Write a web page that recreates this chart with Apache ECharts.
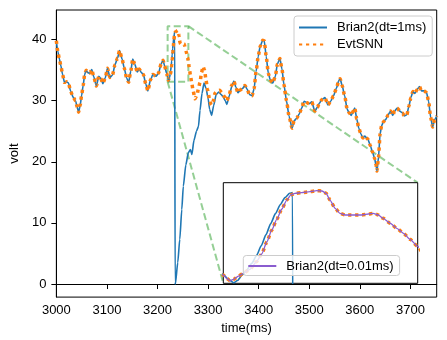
<!DOCTYPE html>
<html>
<head>
<meta charset="utf-8">
<script src="https://cdn.jsdelivr.net/npm/echarts@6/dist/echarts.min.js"></script>
<style>
  html, body { margin: 0; padding: 0; background: #fff; }
  #chart { width: 447px; height: 340px; }
</style>
</head>
<body>
<div id="chart"></div>
<script>
// tick labels
const xTicks = [3000, 3100, 3200, 3300, 3400, 3500, 3600, 3700];
const yTicks = [0, 10, 20, 30, 40];

// zoom window shown in the inset
const insetX = [3220, 3261];
const insetY = [33.1, 42.2];

// 3000-3218 ms, both simulators agree
const tPre = [3000,3003,3006,3009,3012,3016,3020,3024,3028,3033,3038,3041,3044,3047,3050,3053,3056,3059,3062,3066,
  3070,3074,3079,3084,3088,3092,3097,3101,3106,3111,3116,3121,3125,3130,3134,3139,3143,3147,3151,3155,
  3160,3164,3168,3172,3177,3181,3186,3191,3197,3202,3207,3211,3214,3218];
const vPre = [39.8,38.0,36.8,35.7,34.4,33.0,33.1,32.9,31.6,30.6,30.0,29.0,28.1,29.2,30.9,32.5,34.3,35.0,34.6,34.5,
  35.1,33.9,32.4,34.0,33.6,32.8,33.8,35.3,33.8,34.2,35.9,37.0,38.2,36.8,35.4,33.7,33.0,34.8,36.8,36.0,
  34.7,35.2,34.6,34.3,32.7,31.6,33.4,34.3,34.0,34.5,36.0,36.6,35.7,34.5];

// Brian2 dt=1ms around the spike (fires and resets)
const tBrianMid = [3220,3221,3222.2,3223,3224,3225,3226,3227,3228,3229,3230,3231,3232,3233,3234,3234.6,3234.8,3235.3,
  3240,3244,3248,3251,3256,3261,3265,3268,3272,3277,3281,3284,3288,3292,3296,3300,3303,3307,3311,3316,3321,3326,
  3330,3334,3337,3342,3347];
const vBrianMid = [33.9,33.5,33.15,33.35,33.85,34.35,34.9,35.6,36.5,37.5,38.5,39.4,40.2,40.85,41.25,41.3,0.3,0,
  3.5,7.3,12.2,16.0,19.5,21.5,22.0,21.2,23.5,25.0,25.8,28.4,31.2,32.9,32.0,30.4,28.6,27.6,29.2,31.0,31.4,31.0,
  30.6,30.0,29.4,30.8,32.4];

// EvtSNN around the same window (no spike)
const tEvtMid = [3220,3220.7,3221.4,3222.1,3223.2,3224.2,3225.6,3227,3228.1,3229.2,3230.2,3231.3,3232.3,3233.4,3234.2,
  3235.1,3236.5,3238.3,3239.7,3240.8,3241.7,3242.5,3243.6,3244.6,3245.7,3247.4,3249.2,3250.6,3251.6,3252.7,3253.7,
  3255.2,3256.6,3258,3259.4,3260.9,3262.5,3265,3267.5,3270.5,3274,3278,3281,3284,3287,3290,3293,3296,3299,3303,
  3306,3310,3314,3318,3323,3327,3332,3337,3342,3346];
const vEvtMid = [33.85,33.55,33.33,33.45,33.75,34.0,34.36,35.05,35.75,36.86,37.9,38.9,39.8,40.63,41.08,
  41.24,41.3,41.39,41.48,41.45,41.24,40.63,39.88,39.43,39.28,39.28,39.28,39.37,39.43,39.28,38.98,
  38.53,38.07,37.62,37.08,36.47,35.6,34.2,33.0,31.6,30.3,30.9,32.0,33.0,34.6,35.6,35.0,33.3,31.8,30.2,
  29.3,29.9,31.3,31.6,31.7,31.3,30.7,30.0,31.0,32.4];

// Brian2 dt=0.01ms, only drawn in the inset
const tFine = [3218,3220,3220.7,3221.4,3222.1,3223.2,3224.2,3225.6,3227,3228.1,3229.2,3230.2,3231.3,3232.3,3233.4,3234.2,
  3235.1,3236.5,3238.3,3239.7,3240.8,3241.7,3242.5,3243.6,3244.6,3245.7,3247.4,3249.2,3250.6,3251.6,3252.7,3253.7,
  3255.2,3256.6,3258,3259.4,3260.9,3262.5];
const vFine = [34.5,33.85,33.55,33.33,33.45,33.75,34.0,34.36,35.05,35.75,36.86,37.9,38.9,39.8,40.63,41.08,
  41.24,41.3,41.39,41.48,41.45,41.24,40.63,39.88,39.43,39.28,39.28,39.28,39.37,39.43,39.28,38.98,
  38.53,38.07,37.62,37.08,36.47,35.6];

// 3351-3752 ms, both agree again
const tPost = [3351,3355,3359,3364,3368,3373,3377,3382,3387,3391,3395,3399,3403,3408,3411,3415,3419,3423,3428,3433,
  3437,3442,3446,3450,3455,3460,3466,3470,3475,3480,3485,3490,3495,3500,3505,3511,3516,3520,3525,3531,
  3537,3543,3548,3554,3558,3561,3565,3570,3575,3579,3583,3587,3590,3594,3598,3602,3606,3610,3616,3621,
  3625,3629,3632,3634,3637,3640,3643,3647,3651,3656,3661,3665,3669,3674,3679,3684,3688,3693,3697,3701,
  3705,3709,3713,3718,3722,3727,3732,3736,3740,3744,3748,3752];
const vPost = [33.2,32.2,31.3,31.8,32.0,32.5,31.9,31.0,30.8,32.0,34.8,37.2,38.9,39.9,39.8,37.2,34.5,33.4,32.9,34.0,
  36.0,36.9,35.2,32.6,30.0,27.5,25.5,26.7,27.1,27.8,28.8,29.9,29.7,29.5,29.8,28.3,28.9,29.6,30.2,30.5,
  29.3,30.0,30.8,32.1,33.2,33.6,32.5,30.8,28.6,28.0,27.6,28.3,28.8,27.0,25.5,24.6,23.9,24.2,23.7,22.6,
  21.6,20.6,19.5,18.5,20.8,24.5,25.9,26.6,26.9,27.7,28.3,27.6,28.3,28.8,28.3,28.0,27.5,27.7,29.1,30.5,
  31.5,31.2,31.8,32.3,31.6,31.6,31.3,29.9,27.3,25.7,26.9,27.5];

const FONT = '"Liberation Sans", Arial, sans-serif';
const BLUE = '#1f77b4';
const ORANGE = '#ff7f0e';
const PURPLE = '#8a5ccf';
const GREEN = 'rgba(44,160,44,0.5)';

function pairs(t, v) {
    const n = Math.min(t.length, v.length);
    const out = [];
    for (let i = 0; i < n; i++) out.push([t[i], v[i]]);
    return out;
}

const brian = pairs(tPre, vPre).concat(pairs(tBrianMid, vBrianMid), pairs(tPost, vPost));
const evt = pairs(tPre, vPre).concat(pairs(tEvtMid, vEvtMid), pairs(tPost, vPost));
const fine = pairs(tFine, vFine);
const zoomBox = [
    [insetX[0], insetY[0]], [insetX[1], insetY[0]],
    [insetX[1], insetY[1]], [insetX[0], insetY[1]], [insetX[0], insetY[0]]
];

const blueStyle = { width: 1.6, color: BLUE };
const dotStyle = { width: 3.5, color: ORANGE, type: [3.2, 3.8], cap: 'butt' };
const greenDash = { width: 2, color: GREEN, type: [7, 3.5] };

const chart = echarts.init(document.getElementById('chart'));

// line series legend icons draw a marker in the middle; make it invisible
const legendBase = {
    orient: 'vertical',
    backgroundColor: 'rgba(255,255,255,0.8)',
    borderColor: '#cccccc',
    borderWidth: 1,
    borderRadius: 3,
    itemWidth: 28,
    itemHeight: 10,
    itemGap: 4,
    itemStyle: { color: 'rgba(0,0,0,0)', borderColor: 'rgba(0,0,0,0)', borderWidth: 0 },
    textStyle: { fontFamily: FONT, fontSize: 13, color: '#000', padding: [0, 0, 0, 5] },
};

const plainNum = (v) => String(v);

const options = {
    animation: false,
    textStyle: { fontFamily: FONT },
    grid: [
        { left: 50, top: 10, width: 386.7, height: 287.7, show: true,
          borderColor: '#000', borderWidth: 1, backgroundColor: 'transparent' },
        { left: 223.3, top: 182.7, width: 194.4, height: 100.6, show: true,
          borderColor: '#000', borderWidth: 1, backgroundColor: '#fff', z: 5 },
    ],
    legend: [
        Object.assign({}, legendBase, {
            data: ['Brian2(dt=1ms)', 'EvtSNN'],
            left: 294, top: 16, padding: [5, 6, 5, 4],
        }),
        Object.assign({}, legendBase, {
            data: ['Brian2(dt=0.01ms)'],
            left: 243.3, top: 255.5, padding: [4, 6, 3, 4], z: 10,
        }),
    ],
    xAxis: [
        {
            type: 'value', gridIndex: 0, min: 3000, max: 3752,
            name: 'time(ms)', nameLocation: 'middle', nameGap: 22,
            nameTextStyle: { fontSize: 13, color: '#000', fontFamily: FONT },
            axisLine: { lineStyle: { color: '#000', width: 1 } },
            axisTick: { length: 5, lineStyle: { color: '#000' }, customValues: xTicks },
            axisLabel: { fontSize: 13, color: '#000', margin: 7, customValues: xTicks, formatter: plainNum },
            splitLine: { show: false },
        },
        { type: 'value', gridIndex: 1, min: insetX[0], max: insetX[1], show: false },
    ],
    yAxis: [
        {
            type: 'value', gridIndex: 0, min: -2.14, max: 44.84,
            name: 'volt', nameLocation: 'middle', nameGap: 28, nameRotate: 90,
            nameTextStyle: { fontSize: 13, color: '#000', fontFamily: FONT },
            axisLine: { show: true, lineStyle: { color: '#000', width: 1 } },
            axisTick: { show: true, length: 5, lineStyle: { color: '#000' }, customValues: yTicks },
            axisLabel: { fontSize: 13, color: '#000', margin: 10, customValues: yTicks, formatter: plainNum },
            splitLine: { show: false },
        },
        { type: 'value', gridIndex: 1, min: insetY[0], max: insetY[1], show: false },
    ],
    series: [
        {
            name: 'zoom', type: 'line', xAxisIndex: 0, yAxisIndex: 0,
            data: zoomBox, symbol: 'none', lineStyle: greenDash, z: 1, silent: true,
        },
        {
            name: 'Brian2(dt=1ms)', type: 'line', xAxisIndex: 0, yAxisIndex: 0,
            data: brian, symbol: 'none', smooth: 0.2, smoothMonotone: 'x',
            lineStyle: blueStyle, itemStyle: { color: BLUE }, z: 2,
        },
        {
            name: 'EvtSNN', type: 'line', xAxisIndex: 0, yAxisIndex: 0,
            data: evt, symbol: 'none', smooth: 0.2, smoothMonotone: 'x',
            lineStyle: dotStyle, itemStyle: { color: ORANGE }, z: 3,
        },
        {
            name: 'Brian2(dt=1ms)', type: 'line', xAxisIndex: 1, yAxisIndex: 1,
            data: brian, symbol: 'none', smooth: 0.2, smoothMonotone: 'x',
            lineStyle: blueStyle, z: 6,
        },
        {
            name: 'EvtSNN', type: 'line', xAxisIndex: 1, yAxisIndex: 1,
            data: evt, symbol: 'none', smooth: 0.2, smoothMonotone: 'x',
            lineStyle: dotStyle, z: 7,
        },
        {
            name: 'Brian2(dt=0.01ms)', type: 'line', xAxisIndex: 1, yAxisIndex: 1,
            data: fine, symbol: 'none', smooth: 0.2, smoothMonotone: 'x',
            lineStyle: { width: 1.3, color: PURPLE }, itemStyle: { color: PURPLE }, z: 8,
        },
    ],
};

chart.setOption(options);

// connector lines from the zoom box corners to the inset corners
const a1 = chart.convertToPixel({ gridIndex: 0 }, [insetX[1], insetY[1]]);
const b1 = chart.convertToPixel({ gridIndex: 1 }, [insetX[1], insetY[1]]);
const a2 = chart.convertToPixel({ gridIndex: 0 }, [insetX[0], insetY[0]]);
const b2 = chart.convertToPixel({ gridIndex: 1 }, [insetX[0], insetY[0]]);
const connStyle = { stroke: GREEN, lineWidth: 2, lineDash: [7, 3.5] };
chart.setOption({
    graphic: [
        { type: 'line', z: 1, silent: true, shape: { x1: a1[0], y1: a1[1], x2: b1[0], y2: b1[1] }, style: connStyle },
        { type: 'line', z: 1, silent: true, shape: { x1: a2[0], y1: a2[1], x2: b2[0], y2: b2[1] }, style: connStyle },
    ],
});
</script>
</body>
</html>
